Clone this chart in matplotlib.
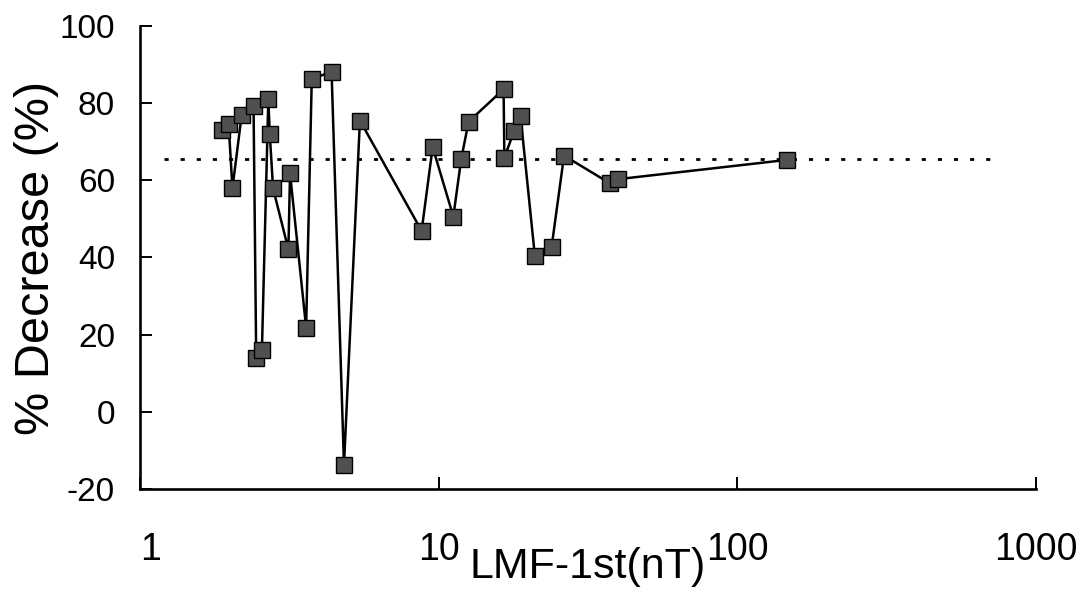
import matplotlib
matplotlib.use("Agg")
import matplotlib.pyplot as plt

# LMF-1st (nT) and % decrease, in order of increasing field
lmf_nt = [1.88, 1.98, 2.04, 2.19, 2.40, 2.45, 2.56, 2.69, 2.72, 2.79,
          3.14, 3.18, 3.60, 3.76, 4.38, 4.82, 5.45, 8.77, 9.55, 11.2,
          11.9, 12.6, 16.5, 16.6, 17.9, 18.8, 21.0, 23.9, 26.3, 37.5,
          39.9, 147.0]
pct_decrease = [73.0, 74.6, 58.0, 76.9, 79.3, 13.9, 16.0, 81.0, 72.0, 57.9,
                42.1, 61.8, 21.8, 86.2, 88.2, -13.8, 75.5, 46.9, 68.6, 50.6,
                65.5, 75.2, 83.6, 65.9, 72.8, 76.7, 40.4, 42.8, 66.4, 59.2,
                60.3, 65.3]

# mean level shown as dotted reference line
mean_x = [1.2, 760]
mean_y = [65.4, 65.4]

x_ticks = [1, 10, 100, 1000]
x_tick_labels = ["1", "10", "100", "1000"]
y_ticks = [-20, 0, 20, 40, 60, 80, 100]

plt.rcParams["font.family"] = ["Liberation Sans", "DejaVu Sans"]
plt.rcParams["axes.unicode_minus"] = False

fig = plt.figure(figsize=(10.86, 6.10), dpi=100)
ax = fig.add_axes([0.1289, 0.1984, 0.8250, 0.7590])

ax.plot(mean_x, mean_y, color="black", lw=2, ls=(0, (1.5, 4.3)), zorder=1)
ax.plot(lmf_nt, pct_decrease, color="black", lw=1.8, marker="s",
        markersize=11.5, markerfacecolor="#505050", markeredgecolor="black",
        markeredgewidth=1.0, zorder=2)

ax.set_xscale("log")
ax.set_xlim(1, 1000)
ax.set_ylim(-20, 100)
ax.set_xticks(x_ticks)
ax.set_xticklabels(x_tick_labels)
ax.minorticks_off()
ax.set_yticks(y_ticks)

for side in ("top", "right"):
    ax.spines[side].set_visible(False)
for side in ("left", "bottom"):
    ax.spines[side].set_linewidth(1.9)

ax.tick_params(axis="both", direction="in", length=8.5, width=1.4)
ax.tick_params(axis="x", labelsize=27, pad=31)
ax.tick_params(axis="y", labelsize=24, pad=18)
for lbl in ax.get_xticklabels():
    lbl.set_horizontalalignment("left" if lbl.get_text() == "1" else "center")

ax.set_xlabel("LMF-1st(nT)", fontsize=31, va="top")
ax.xaxis.set_label_coords(0.5, -0.125)
ax.set_ylabel("% Decrease (%)", fontsize=35)
ax.yaxis.set_label_coords(-0.09, 0.5)

fig.savefig("out.png", dpi=100)
